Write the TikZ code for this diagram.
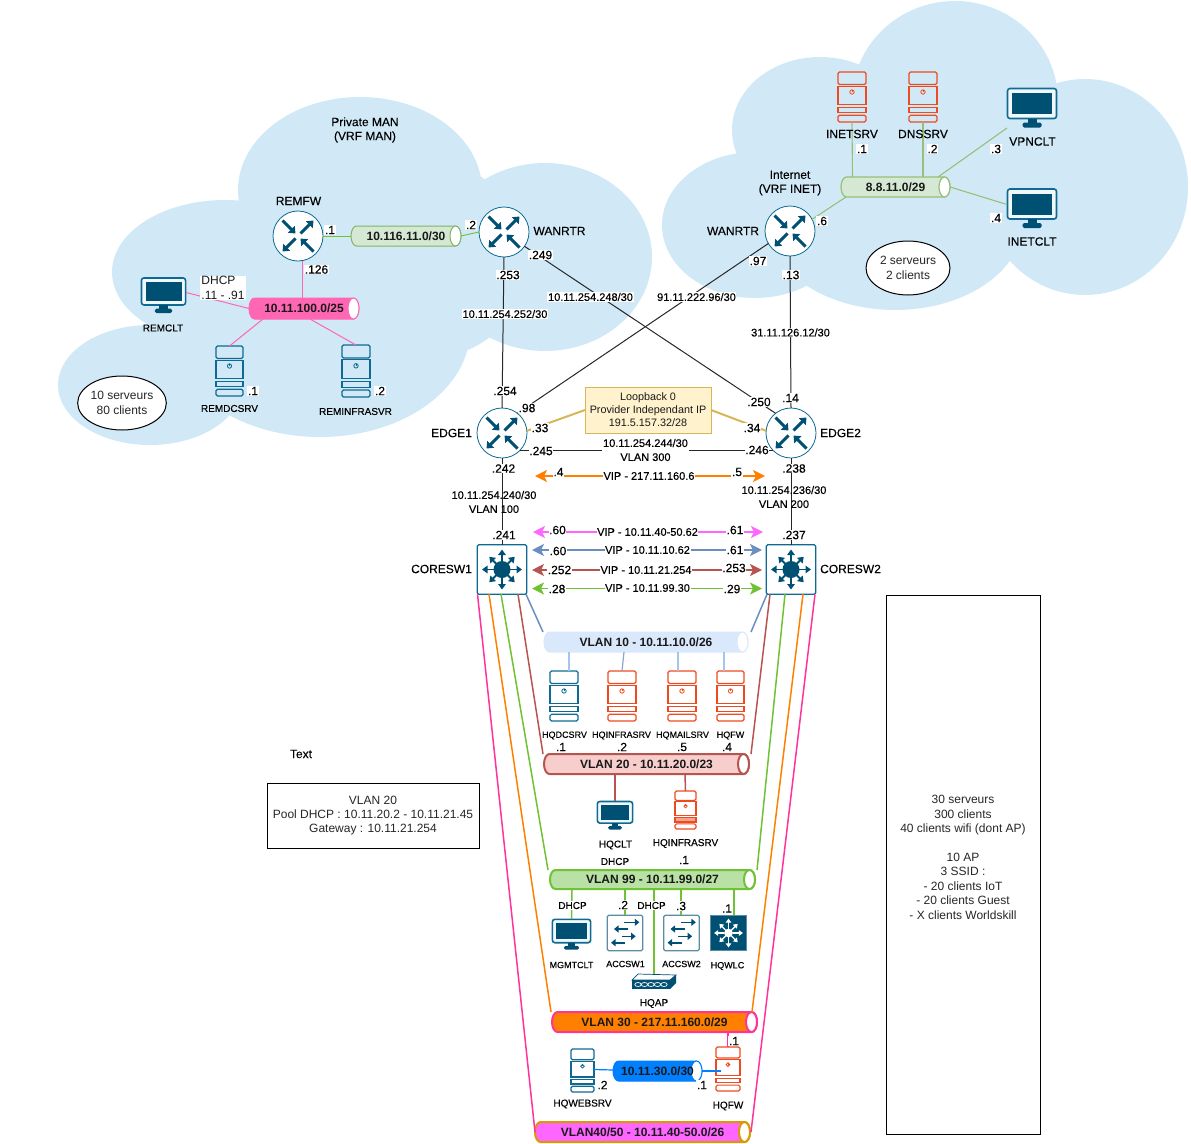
\documentclass[tikz,border=0pt]{standalone}
\usepackage{fontspec}
\setmainfont{Liberation Sans}
\newfontfamily\semib{Liberation Sans}[RawFeature={embolden=0.35}]
\newfontfamily\semia{Liberation Sans}[RawFeature={embolden=0.2}]
\usetikzlibrary{arrows.meta,shapes.geometric}
\definecolor{cloudc}{HTML}{D1E9F6}
\definecolor{teal}{HTML}{0E6A92}
\definecolor{navy}{HTML}{005073}
\definecolor{srvred}{HTML}{EE4A20}
\definecolor{pinkl}{HTML}{FF66B3}
\definecolor{hotp}{HTML}{FF3399}
\definecolor{orng}{HTML}{FF8000}
\definecolor{grn}{HTML}{6FC233}
\definecolor{bluel}{HTML}{6C8EBF}
\definecolor{redl}{HTML}{B85450}
\definecolor{lgrn}{HTML}{97BF7A}
\definecolor{yel}{HTML}{D6B656}
\definecolor{blul}{HTML}{A9C4EB}
\definecolor{bluegrey}{HTML}{5C8BA5}
\newcounter{labc}
\newcommand{\ilabel}[4][lb]{\stepcounter{labc}\node[#1] (lab\arabic{labc}) at (#2,#3) {#4};}
% tube: name x1 y1 x2 y2 fill draw linewidth text
\newcommand{\tube}[9]{%
  \pgfmathsetmacro{\tcx}{(#2+#4)/2}\pgfmathsetmacro{\tcy}{(#3+#5)/2}%
  \pgfmathsetmacro{\tw}{#4-#2}\pgfmathsetmacro{\th}{#5-#3}\pgfmathsetmacro{\thh}{(#5-#3)/2}%
  \pgfmathsetmacro{\txa}{#2+5.5}\pgfmathsetmacro{\txb}{#4-5.5}%
  \draw[fill=#6,draw=#7,line width=#8] (\txa,#3) -- (\txb,#3) arc[start angle=90,end angle=-90,x radius=5.5pt,y radius=\thh pt] -- (\txa,#5) arc[start angle=270,end angle=90,x radius=5.5pt,y radius=\thh pt] -- cycle;
  \draw[fill=white,draw=#7,line width=#8] (\txb,\tcy) ellipse[x radius=5.5pt,y radius=\thh pt];
  \node[tubebox,minimum width=\tw pt,minimum height=\th pt] (#1) at (\tcx,\tcy) {#9};}
% router: name x y
\newcommand{\router}[3]{%
  \node[rtr] (#1) at (#2,#3) {};
  \begin{scope}[shift={(#2,#3)}]
    \draw[rarr] (-15.5,-15.5) -- (-2.5,-2.5);
    \draw[rarr] (2.5,-2.5) -- (15.5,-15.5);
    \draw[rarr] (-2.5,2.5) -- (-15.5,15.5);
    \draw[rarr] (15.5,15.5) -- (2.5,2.5);
  \end{scope}}
% multilayer switch glyph: x y scale colour width
\newcommand{\coreglyph}[5]{%
  \begin{scope}[shift={(#1,#2)},scale=#3]
    \fill[#4] (0,0) circle[radius=8.5pt*#3];
    \foreach \a/\r in {0/20,45/18,90/20,135/18,180/20,225/18,270/20,315/18}
      \draw[draw=#4,line width=#5,-{Triangle[length=5.5pt*#3,width=7.5pt*#3]}] (\a:6) -- (\a:\r);
  \end{scope}}
% server: [lowerfill] name x y w h colour
\newcommand{\server}[7][none]{%
  \node[minimum width=#5 pt,minimum height=#6 pt,inner sep=0pt,outer sep=0pt] (#2) at (#3,#4) {};
  \begin{scope}[shift={(#3,#4)},xscale=#5/28,yscale=#6/50,line width=1.15pt]
    \draw[#7,rounded corners=1.5pt] (-14,-25) rectangle (14,-12.5);
    \draw[#7] (-14,-10.8) rectangle (14,7.5);
    \draw[#7,line width=0.8pt] (0,-5) circle[radius=2.2pt];
    \draw[#7,line width=0.7pt] (0,-7) -- (0,-5);
    \draw[#7,fill=#1] (-14,10.3) rectangle (14,15.7);
    \draw[#7,rounded corners=1.5pt] (-14,18.3) rectangle (14,25);
  \end{scope}}
% monitor: name x y w (50 x 40 base)
\newcommand{\monitor}[4]{%
  \pgfmathsetmacro{\mh}{#4*0.8}%
  \node[minimum width=#4 pt,minimum height=\mh pt,inner sep=0pt,outer sep=0pt] (#1) at (#2,#3) {};
  \begin{scope}[shift={(#2,#3)},scale=#4/50]
    \draw[teal,line width=1.6pt,rounded corners=2.5pt,fill=cloudc!30!white] (-24.5,-19.5) rectangle (24.5,10.5);
    \fill[navy] (-20,-15) rectangle (20,6);
    \fill[navy] (-4.5,10.5) rectangle (4.5,15.5);
    \fill[navy,rounded corners=1.5pt] (-9.5,14.5) rectangle (9.5,19.5);
  \end{scope}}
% access switch: name x y
\newcommand{\accsw}[3]{%
  \node[minimum size=35.5pt,inner sep=0pt,outer sep=0pt,rounded corners=1.5pt,draw=bluegrey,fill=white,line width=1.2pt] (#1) at (#2,#3) {};
  \begin{scope}[shift={(#2,#3)}]
    \draw[sarr] (-1,-10.7) -- (14.3,-10.7);
    \draw[sarr] (3.3,-4) -- (-11,-4);
    \draw[sarr] (-3.3,3.3) -- (10.7,3.3);
    \draw[sarr] (0,9.7) -- (-14,9.7);
  \end{scope}}
\tikzset{
  lb/.style={font=\fontsize{12}{14}\semib,fill=white,inner sep=0.6pt,align=center,text=black},
  lbn/.style={font=\fontsize{12}{14}\semia,inner sep=0pt,align=center,text=black},
  nt/.style={font=\fontsize{11}{14}\semib,fill=white,inner sep=0.6pt,align=center,text=black},
  ntn/.style={font=\fontsize{11}{14}\semib,inner sep=0pt,align=center,text=black},
  sm/.style={font=\fontsize{9}{11}\semib,inner sep=0pt,align=center,text=black},
  smw/.style={font=\fontsize{10}{11}\semib,fill=white,inner sep=1pt,align=center,text=black},
  sd/.style={font=\fontsize{10}{11}\semib,inner sep=0pt,align=center,text=black},
  tubebox/.style={inner sep=0pt,outer sep=0pt,font=\fontsize{12}{14}\selectfont\bfseries,text=black!90},
  rtr/.style={circle,minimum size=50pt,inner sep=0pt,outer sep=0pt,draw=teal,fill=white,line width=0.8pt},
  rarr/.style={draw=navy,line width=3pt,-{Triangle[length=6pt,width=9.5pt]}},
  sarr/.style={draw=navy,line width=1.6pt,-{Triangle[length=4.5pt,width=7pt]}},
  corebox/.style={rectangle,rounded corners=1.5pt,minimum size=49.5pt,inner sep=0pt,outer sep=0pt,draw=teal,fill=white,line width=1.2pt},
  vip/.style={line width=1.6pt,{Stealth[length=12pt,width=12pt,inset=3pt]}-{Stealth[length=12pt,width=12pt,inset=3pt]}},
  blk/.style={draw=black!85,line width=1pt},
  pk/.style={draw=pinkl,line width=1pt},
  lg/.style={draw=lgrn,line width=1.1pt},
  wire/.style={line width=1.5pt},
}
\begin{document}
\begin{tikzpicture}[x=1pt,y=-1pt]
\useasboundingbox (0,0) rectangle (1191,1143);
% clouds
\fill[cloudc] (360,190) ellipse[x radius=122pt,y radius=93pt];
\fill[cloudc] (225,272) ellipse[x radius=113pt,y radius=72pt];
\fill[cloudc] (150,385) ellipse[x radius=92pt,y radius=60pt];
\fill[cloudc] (545,257) ellipse[x radius=107pt,y radius=94pt];
\fill[cloudc] (320,330) ellipse[x radius=150pt,y radius=107pt];
\fill[cloudc] (420,260) ellipse[x radius=110pt,y radius=100pt];
\fill[cloudc] (955,101) ellipse[x radius=103pt,y radius=100pt];
\fill[cloudc] (820,130) ellipse[x radius=88pt,y radius=73pt];
\fill[cloudc] (755,225) ellipse[x radius=93pt,y radius=73pt];
\fill[cloudc] (1085,187) ellipse[x radius=103pt,y radius=108pt];
\fill[cloudc] (895,222) ellipse[x radius=128pt,y radius=88pt];
\fill[cloudc] (950,170) ellipse[x radius=110pt,y radius=80pt];
% tubes
\definecolor{c1}{HTML}{D5E8D4}\definecolor{d1}{HTML}{82B366}
\definecolor{c3}{HTML}{DAE8FC}\definecolor{c4}{HTML}{F8CECC}\definecolor{c5}{HTML}{B9E0A5}
\definecolor{c6}{HTML}{007FFF}\definecolor{c7}{HTML}{FF66FF}\definecolor{d7}{HTML}{D79B00}
\tube{t116}{351}{226}{461}{246}{c1}{d1}{1pt}{10.116.11.0/30}
\tube{t100}{249}{298}{359}{319}{pinkl}{pinkl}{1pt}{10.11.100.0/25}
\tube{t88}{841}{177}{950}{197}{c1}{lgrn}{1.2pt}{8.8.11.0/29}
\tube{v10}{544}{632}{748}{652}{c3}{c3}{1pt}{VLAN 10 - 10.11.10.0/26}
\tube{v20}{544}{754}{749}{774}{c4}{redl}{2pt}{VLAN 20 - 10.11.20.0/23}
\tube{v99}{550}{870}{755}{889}{c5}{grn}{2pt}{VLAN 99 - 10.11.99.0/27}
\tube{v30}{552}{1012}{757}{1032}{orng}{hotp}{2pt}{VLAN 30 - 217.11.160.0/29}
\tube{t30}{613}{1061}{702}{1081}{c6}{c6}{1pt}{10.11.30.0/30}
\tube{v45}{535}{1122}{750}{1142}{c7}{d7}{2pt}{VLAN40/50 - 10.11.40-50.0/26}
% routers
\router{remfw}{298}{236}
\router{wan1}{504}{232}
\router{wan2}{790}{231}
\router{e1}{502}{433}
\router{e2}{791}{433}
% core
\node[corebox] (c1) at (502,569.5) {};
\node[corebox] (c2) at (791,569.5) {};
\coreglyph{502}{569.5}{1}{navy}{1.8pt}
\coreglyph{791}{569.5}{1}{navy}{1.8pt}
% servers
\server{remdc}{229.5}{371}{27}{50}{teal}
\server{reminf}{356}{371}{28}{52}{teal}
\server{inet}{852}{97}{28}{50}{srvred}
\server{dns}{923}{97}{28}{50}{srvred}
\server{hqdc}{564}{696}{28}{50}{teal}
\server{hqinf}{622}{696}{28}{50}{srvred}
\server{hqmail}{682}{696}{28}{50}{srvred}
\server{hqfw}{730.5}{696}{27}{50}{srvred}
\server[srvred!50!white]{hqinf2}{685.5}{810}{21}{38}{srvred}
\server{hqweb}{582.5}{1070.5}{23}{43}{teal}
\server{hqfw2}{728}{1069}{24}{44}{srvred}
% monitors
\monitor{remclt}{163.5}{295.5}{45}
\monitor{vpn}{1032}{108}{50}
\monitor{inetclt}{1032}{208.5}{50}
\monitor{hqclt}{615}{815.5}{36}
\monitor{mgmt}{571.5}{934.5}{39}
% access
\accsw{acc1}{625}{933}
\accsw{acc2}{681.5}{933}
\node[minimum size=35.5pt,inner sep=0pt,outer sep=0pt,fill=navy,draw=bluegrey,line width=0.6pt] (wlc) at (728.5,933) {};
\coreglyph{728.5}{933}{0.72}{white}{1.4pt}
% AP
\node[minimum width=44pt,minimum height=15pt,inner sep=0pt,outer sep=0pt] (ap) at (654,981.5) {};
\begin{scope}[shift={(632,974)}]
  \draw[navy,fill=white,line width=0.7pt] (0,6) -- (6,0) -- (44,1) -- (38,6) -- cycle;
  \fill[navy] (38,6) -- (44,1) -- (44,9) -- (38,15) -- cycle;
  \fill[navy] (0,6) rectangle (38,15);
  \foreach \i in {6,12.5,19,25.5,32}
    \draw[white,line width=0.7pt] (\i,10.5) ellipse[x radius=3.2pt,y radius=2pt];
\end{scope}
% loopback
\definecolor{loopf}{HTML}{FFF2CC}
\node[minimum width=126pt,minimum height=46pt,inner sep=0pt,outer sep=0pt,draw=yel,fill=loopf,line width=1pt,align=center,font=\fontsize{10.8}{13}\selectfont,text=black!90] (loopb) at (648,410) {Loopback 0\\Provider Independant IP\\191.5.157.32/28};
% info boxes
\node[minimum width=212pt,minimum height=65pt,inner sep=0pt,outer sep=0pt,draw=black,line width=0.8pt,align=center,font=\fontsize{12}{14.4}\selectfont,text=black!85] (vbox) at (373,815.5) {VLAN 20\\Pool DHCP : 10.11.20.2 - 10.11.21.45\\Gateway : 10.11.21.254};
\node[minimum width=154pt,minimum height=539pt,inner sep=0pt,outer sep=0pt,draw=black,line width=0.8pt,align=center,font=\fontsize{12}{14.4}\selectfont,text=black!85] (bigbox) at (963,864.5) {30 serveurs\\300 clients\\40 clients wifi (dont AP)\\[14.4pt]10 AP\\3 SSID :\\- 20 clients IoT\\- 20 clients Guest\\- X clients Worldskill\\[0pt]};
\node[ellipse,minimum width=86pt,minimum height=54pt,inner sep=0pt,draw=black,fill=white,line width=1pt,align=center,font=\fontsize{12}{15}\selectfont,text=black!85] (el1) at (122,403) {10 serveurs\\80 clients};
\node[ellipse,minimum width=84pt,minimum height=54pt,inner sep=0pt,draw=black,fill=white,line width=1pt,align=center,font=\fontsize{12}{15}\selectfont,text=black!85] (el2) at (908,268) {2 serveurs\\2 clients};
% connectors left cloud
\draw[draw=grn,line width=0.9pt] (remfw.east) -- (t116.west);
\draw[draw=grn,line width=0.9pt] (t116.east) -- (wan1.west);
\draw[pk] ([xshift=4]remfw.south) -- ([xshift=-2]t100.north);
\draw[pk] ([yshift=3]remclt.east) -- (t100.west);
\draw[pk] ([xshift=14]t100.south west) -- (remdc.north);
\draw[pk] ([xshift=-49]t100.south east) -- (reminf.north);
% wan
\draw[blk] (wan1.south) -- (e1.north);
\draw[blk] (wan1.-35) -- (e2.128);
\draw[blk] (wan2.210) -- (e1.52);
\draw[blk] (wan2.south) -- (e2.north);
\draw[blk] (e1.-45) -- (e2.225);
\draw[draw=yel,line width=2pt] (loopb.west) -- (e1.5);
\draw[draw=yel,line width=2pt] (loopb.east) -- (e2.175);
\draw[blk] (e1.south) -- (c1.north);
\draw[blk] (e2.south) -- (c2.north);
% right cloud
\draw[lg] (inet.south) -- ([xshift=-43]t88.north);
\draw[lg] (dns.south) -- ([xshift=27.5]t88.north);
\draw[lg] (vpn.south west) -- ([xshift=-12]t88.north east);
\draw[lg] (t88.east) -- ([yshift=4]inetclt.west);
\draw[lg] ([xshift=5]t88.south west) -- (wan2.28);
% VIP arrows
\coordinate (o1) at (535,476);\coordinate (o2) at (765,476);
\coordinate (m1) at (533,532);\coordinate (m2) at (763,532);
\coordinate (b1) at (532,550);\coordinate (b2) at (762,550);
\coordinate (r1) at (532,570);\coordinate (r2) at (762,570);
\coordinate (g1) at (532,588.5);\coordinate (g2) at (762,588.5);
\draw[vip,draw=orng,fill=orng] (o1) -- (o2);
\draw[vip,draw=c7,fill=c7] (m1) -- (m2);
\draw[vip,draw=bluel,fill=bluel] (b1) -- (b2);
\draw[vip,draw=redl,fill=redl] (r1) -- (r2);
\draw[vip,draw=grn,fill=grn] (g1) -- (g2);
% trunks
\draw[wire,draw=hotp] ([xshift=-24.5]c1.south) -- (v45.west);
\draw[wire,draw=orng] ([xshift=-13]c1.south) -- ([xshift=-1]v30.north west);
\draw[wire,draw=grn] ([xshift=-1]c1.south) -- ([xshift=-2]v99.north west);
\draw[wire,draw=redl] ([xshift=16]c1.south) -- ([xshift=-1]v20.north west);
\draw[wire,draw=bluel] ([xshift=24]c1.south) -- ([xshift=-1]v10.north west);
\draw[wire,draw=hotp] ([xshift=24]c2.south) -- ([xshift=1]v45.east);
\draw[wire,draw=orng] ([xshift=12]c2.south) -- ([xshift=-5]v30.north east);
\draw[wire,draw=grn] ([xshift=-6]c2.south) -- ([xshift=2]v99.north east);
\draw[wire,draw=redl] ([xshift=-21]c2.south) -- ([xshift=2]v20.north east);
\draw[wire,draw=bluel] ([xshift=-24]c2.south) -- ([xshift=3]v10.north east);
% vlan 10
\draw[draw=blul,line width=1.2pt] ([xshift=-77]v10.south) -- ([xshift=5]hqdc.north);
\draw[draw=bluel!80,line width=1.2pt] ([xshift=-22]v10.south) -- (hqinf.north);
\draw[draw=blul,line width=1.2pt] ([xshift=32]v10.south) -- ([xshift=-4]hqmail.north);
\draw[draw=blul,line width=1.2pt] ([xshift=78]v10.south) -- ([xshift=-6.5]hqfw.north);
% vlan 20
\draw[wire,draw=redl] ([xshift=-31.5]v20.south) -- (hqclt.north);
\draw[wire,draw=redl] ([xshift=38.5]v20.south) -- (hqinf2.north);
% vlan 99
\draw[wire,draw=grn] ([xshift=-80.5]v99.south) -- (mgmt.north);
\draw[wire,draw=grn] ([xshift=-27.5]v99.south) -- (acc1.north);
\draw[wire,draw=grn] ([xshift=1.5]v99.south) -- (ap.north);
\draw[wire,draw=grn] ([xshift=28.5]v99.south) -- ([xshift=-0.5]acc2.north);
\draw[wire,draw=grn] ([xshift=81.5]v99.south) -- ([xshift=5.5]wlc.north);
% vlan 30
\draw[wire,draw=hotp] ([xshift=73.5]v30.south) -- (hqfw2.north);
\draw[draw=c6,line width=1.2pt] ([yshift=1]hqweb.east) -- ([yshift=1]t30.west);
\draw[draw=c6,line width=1.2pt] (t30.east) -- ([xshift=19]t30.east);
% labels
\ilabel[lbn]{365}{130}{Private MAN\\(VRF MAN)}
\ilabel[lbn]{790}{183}{Internet\\(VRF INET)}
\ilabel[lbn]{298.5}{201}{REMFW}
\ilabel[lbn]{559.5}{231}{WANRTR}
\ilabel[lbn]{733}{231}{WANRTR}
\ilabel{330}{230}{.1}
\ilabel{471}{225}{.2}
\ilabel{316.5}{269.5}{.126}
\node[font=\fontsize{12}{14.4}\selectfont,fill=white,inner sep=1pt,align=left,text=black!90,minimum width=44pt] (dhcpl) at (223,288) {DHCP\\.11 - .91};
\ilabel[sd]{163}{328}{REMCLT}
\ilabel[sd]{229.5}{408.5}{REMDCSRV}
\ilabel[sd]{355.5}{411.5}{REMINFRASVR}
\ilabel{253}{391}{.1}
\ilabel{380}{391}{.2}
\ilabel[lbn]{852}{134}{INETSRV}
\ilabel[lbn]{923}{134}{DNSSRV}
\ilabel{862}{149}{.1}
\ilabel{932.5}{149}{.2}
\ilabel[lbn]{1032.5}{141.5}{VPNCLT}
\ilabel[lbn]{1032}{241.5}{INETCLT}
\ilabel{996}{149}{.3}
\ilabel{996}{218}{.4}
\ilabel{822}{221}{.6}
\ilabel{508}{275}{.253}
\ilabel[nt]{505}{314}{10.11.254.252/30}
\ilabel{505}{391}{.254}
\ilabel{540.5}{255}{.249}
\ilabel[nt]{590.5}{297}{10.11.254.248/30}
\ilabel{759}{402}{.250}
\ilabel{758}{261}{.97}
\ilabel[nt]{696.5}{297}{91.11.222.96/30}
\ilabel{527}{408}{.98}
\ilabel{791}{275}{.13}
\ilabel[nt]{790.5}{332.5}{31.11.126.12/30}
\ilabel{790.5}{398}{.14}
\ilabel[lbn]{451.5}{433}{EDGE1}
\ilabel[lbn]{840.5}{433}{EDGE2}
\ilabel{540}{428}{.33}
\ilabel{752}{428}{.34}
\ilabel{541}{451}{.245}
\ilabel{757}{450}{.246}
\ilabel[nt]{645.5}{450}{10.11.254.244/30\\VLAN 300}
\ilabel{503.5}{468.5}{.242}
\ilabel{794}{468.5}{.238}
\ilabel[ntn]{494}{502}{10.11.254.240/30\\VLAN 100}
\ilabel[ntn]{784}{497}{10.11.254.236/30\\VLAN 200}
\ilabel{504}{535}{.241}
\ilabel{794}{535}{.237}
\ilabel[lbn]{441.5}{569}{CORESW1}
\ilabel[lbn]{850.5}{569}{CORESW2}
\ilabel[lb]{558.5}{472}{.4}
\ilabel[nt]{649}{476}{VIP - 217.11.160.6}
\ilabel{737}{472}{.5}
\ilabel{557.5}{530}{.60}
\ilabel[nt]{647.5}{532}{VIP - 10.11.40-50.62}
\ilabel{735}{530}{.61}
\ilabel{558}{551}{.60}
\ilabel[nt]{647.5}{550}{VIP - 10.11.10.62}
\ilabel{735}{550}{.61}
\ilabel{559.5}{570}{.252}
\ilabel[nt]{646}{570}{VIP - 10.11.21.254}
\ilabel{734}{568}{.253}
\ilabel{557}{589}{.28}
\ilabel[nt]{647.5}{588}{VIP - 10.11.99.30}
\ilabel{732}{589}{.29}
\ilabel[sm]{564.5}{735.5}{HQDCSRV}
\ilabel[sm]{621.5}{735.5}{HQINFRASRV}
\ilabel[sm]{682.5}{735.5}{HQMAILSRV}
\ilabel[sm]{730.5}{735.5}{HQFW}
\ilabel{561}{747}{.1}
\ilabel{622}{747}{.2}
\ilabel{682}{747}{.5}
\ilabel{727}{747}{.4}
\ilabel[sd]{615.5}{845}{HQCLT}
\ilabel[smw]{615}{861.5}{DHCP}
\ilabel[sd]{685.5}{843.5}{HQINFRASRV}
\ilabel{684}{860}{.1}
\ilabel[smw]{572.5}{905.5}{DHCP}
\ilabel[smw]{651.5}{905.5}{DHCP}
\ilabel{623}{905}{.2}
\ilabel{681}{906}{.3}
\ilabel{727}{908.5}{.1}
\ilabel[sm]{571.5}{965}{MGMTCLT}
\ilabel[sm]{625.5}{964}{ACCSW1}
\ilabel[sm]{681.5}{964}{ACCSW2}
\ilabel[sm]{727.5}{966}{HQWLC}
\ilabel[sd]{654}{1003.5}{HQAP}
\ilabel{734}{1041}{.1}
\ilabel{602.5}{1085}{.2}
\ilabel{702}{1085}{.1}
\ilabel[sd]{582.5}{1104}{HQWEBSRV}
\ilabel[sd]{728}{1106}{HQFW}
\ilabel[lbn]{301}{754}{Text}
\end{tikzpicture}
\end{document}
